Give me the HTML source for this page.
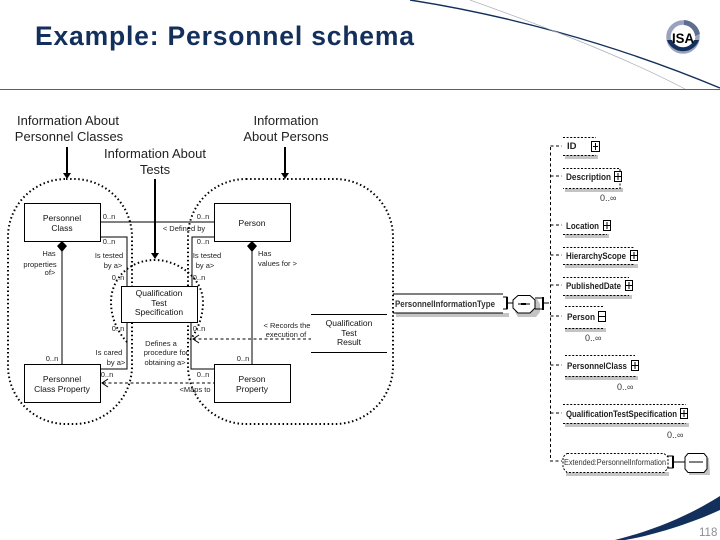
<!DOCTYPE html>
<html><head><meta charset="utf-8"><style>
html,body{margin:0;padding:0;background:#fff}
svg{display:block}
text{font-family:"Liberation Sans",sans-serif;fill:#111}
.h{font-size:13px;text-anchor:middle;fill:#222}
.b{font-size:8.5px;text-anchor:middle}
.s{font-size:7.5px;text-anchor:middle;fill:#222}
.e{font-size:9.5px;font-weight:bold;fill:#222}
.m{font-size:9px;fill:#333}
.dot{fill:none;stroke:#000;stroke-width:2;stroke-dasharray:1.5 2.6}
.dash{fill:none;stroke:#000;stroke-width:1;stroke-dasharray:3 2.5}
.l{fill:none;stroke:#000;stroke-width:1}
.box{fill:#fff;stroke:#000;stroke-width:1}
.sh{fill:#c4c4c4}
.ed{fill:#fff;stroke:#000;stroke-width:1;stroke-dasharray:2 1.6}
</style></head><body>
<svg width="720" height="540" viewBox="0 0 720 540" xmlns="http://www.w3.org/2000/svg">
<rect width="720" height="540" fill="#fff"/>
<!-- header -->
<text x="35" y="45" textLength="379" lengthAdjust="spacing" style="font-size:26.500px;font-weight:bold;fill:#13305c">Example: Personnel schema</text>
<line x1="0" y1="89.5" x2="720" y2="89.5" stroke="#55626f" stroke-width="1"/>
<path d="M410 0C500 14 610 42 720 88" fill="none" stroke="#13305c" stroke-width="1.4"/>
<path d="M470 0C540 25 620 55 685 89" fill="none" stroke="#a9afba" stroke-width="0.7"/>
<!-- logo -->
<circle cx="683" cy="37" r="14.5" fill="none" stroke="#9aa3bd" stroke-width="4.5"/>
<path d="M667 40A17 17 0 0 0 699 40L694 40A12 12 0 0 1 672 40Z" fill="#13305c"/>
<path d="M684 20A17 17 0 0 1 700 34L695 36A12 12 0 0 0 684 25Z" fill="#5f6d8f"/>
<text x="683" y="43" text-anchor="middle" style="font-size:14px;font-weight:bold;fill:#000" textLength="22" lengthAdjust="spacingAndGlyphs">ISA</text>
<!-- bottom swoosh -->
<path d="M615 540C655 530 690 515 720 496L720 510C690 524 650 536 625 540Z" fill="#13305c"/>
<text x="699" y="536" style="font-size:11.5px;fill:#8a8f96">118</text>

<!-- dotted groups -->
<rect x="8" y="179" width="124" height="245" rx="58" ry="58" class="dot"/>
<rect x="188" y="179" width="205" height="245" rx="58" ry="58" class="dot"/>
<path d="M127 342C116 330 111 316 111 302C111 280 128 260 155 260C178 260 203 278 203 302C203 316 198 330 190 340" class="dot"/>

<!-- heading labels + arrows -->
<text class="h" x="68" y="125">Information About</text>
<text class="h" x="69" y="141">Personnel Classes</text>
<text class="h" x="155" y="158">Information About</text>
<text class="h" x="155" y="174">Tests</text>
<text class="h" x="286" y="125">Information</text>
<text class="h" x="286" y="141">About Persons</text>
<path d="M67 147V173" stroke="#000" stroke-width="2"/><path d="M63 173L71 173L67 179Z"/>
<path d="M155 179V253" stroke="#000" stroke-width="2"/><path d="M151 253L159 253L155 259Z"/>
<path d="M285 147V173" stroke="#000" stroke-width="2"/><path d="M281 173L289 173L285 179Z"/>

<!-- connectors -->
<path class="l" d="M100 222H214M100 237H127V286M214 237H192V286M62 241V364M252 241V364M127 322V369H100M191 322V369H214"/>
<path class="dash" d="M103 383H214M193 339H311"/>
<path class="l" d="M108 379L102 383L108 387M199 335L193 339L199 343"/>
<path d="M62 241L67 246L62 252L57 246Z M252 241L257 246L252 252L247 246Z"/>

<!-- boxes -->
<rect class="box" x="24.5" y="203.5" width="76" height="38"/>
<rect class="box" x="214.5" y="203.5" width="76" height="38"/>
<rect class="box" x="24.5" y="364.5" width="76" height="38"/>
<rect class="box" x="214.5" y="364.5" width="76" height="38"/>
<rect class="box" x="121.5" y="286.5" width="76" height="36"/>
<path class="l" d="M311 314.5H387M311 352.5H387"/>
<text class="b" x="62" y="221">Personnel</text><text class="b" x="62" y="231">Class</text>
<text class="b" x="252" y="226">Person</text>
<text class="b" x="62" y="382">Personnel</text><text class="b" x="62" y="392">Class Property</text>
<text class="b" x="252" y="382">Person</text><text class="b" x="252" y="392">Property</text>
<text class="b" x="159" y="296">Qualification</text><text class="b" x="159" y="306">Test</text><text class="b" x="159" y="315">Specification</text>
<text class="b" x="349" y="326">Qualification</text><text class="b" x="349" y="336">Test</text><text class="b" x="349" y="345">Result</text>

<!-- small labels -->
<text class="s" x="109" y="219">0..n</text><text class="s" x="203" y="219">0..n</text>
<text class="s" x="184" y="231">&lt; Defined by</text>
<text class="s" x="109" y="244">0..n</text><text class="s" x="203" y="244">0..n</text>
<text class="s" x="109" y="258">Is tested</text><text class="s" x="113" y="268">by a&gt;</text>
<text class="s" x="207" y="258">Is tested</text><text class="s" x="205" y="268">by a&gt;</text>
<text class="s" x="49" y="256">Has</text><text class="s" x="40" y="267">properties</text><text class="s" x="50" y="275">of&gt;</text>
<text class="s" x="258" y="256" style="text-anchor:start">Has</text><text class="s" x="258" y="266" style="text-anchor:start">values for &gt;</text>
<text class="s" x="118" y="280">0..n</text><text class="s" x="199" y="280">0..n</text>
<text class="s" x="118" y="331">0..n</text><text class="s" x="199" y="331">0..n</text>
<text class="s" x="109" y="355">Is cared</text><text class="s" x="116" y="365">by a&gt;</text>
<text class="s" x="107" y="377">0..n</text><text class="s" x="203" y="377">0..n</text>
<text class="s" x="161" y="346">Defines a</text><text class="s" x="166" y="355">procedure for</text><text class="s" x="165" y="365">obtaining a&gt;</text>
<text class="s" x="195" y="392">&lt;Maps to</text>
<text class="s" x="52" y="361">0..n</text><text class="s" x="243" y="361">0..n</text>
<text class="s" x="287" y="328">&lt; Records the</text><text class="s" x="286" y="337">execution of</text>

<!-- tree: root -->
<rect class="sh" x="396" y="313" width="113" height="4"/>
<path class="l" d="M393 294H503M393 313H503"/>
<text class="m" x="395" y="307" textLength="100" lengthAdjust="spacingAndGlyphs" style="font-weight:bold;font-size:9.5px">PersonnelInformationType</text>
<path class="l" d="M503 297H507V309H503M507 303H513"/>
<path d="M506 297H508V309H506Z"/>
<path class="sh" d="M517 299H537L540 304V312L536 317H518L515 312Z"/>
<path d="M518 295.500H530L535 300V308L530 313H518L513 308V300Z" fill="#fff" stroke="#000"/>
<path class="l" d="M518 304H530"/><path d="M521 303h5v2h-5z"/>
<path class="l" d="M535 298H543M535 309H543M543 297V310M543 303H549"/>
<path d="M542 297H544V310H542Z"/>
<!-- tree vertical -->
<path class="dash" d="M550.500 147V461H562M550.500 146H562M550.500 176H562M550.500 225H562M550.500 255H562M550.500 285H562M550.500 316H562M550.500 365H562M550.500 413H562"/>

<!-- elements -->
<rect class="sh" x="565" y="155" width="33" height="4"/>
<path class="ed" d="M563 137.500H596M563 155.500H596"/>
<text class="e" x="567" y="149">ID</text>
<rect class="box" x="591.500" y="141.500" width="8" height="10" stroke-width="1.500"/><path class="l" d="M593 146.500H598M595.500 143V150"/>

<rect class="sh" x="565" y="188" width="58" height="4"/>
<path class="ed" d="M563 168.500H620V188.500H563M563 177"/>
<text class="e" x="566" y="180" textLength="45" lengthAdjust="spacingAndGlyphs">Description</text>
<rect class="box" x="614.500" y="171.500" width="7" height="10"/><path class="l" d="M615 176.500H621M618 173V180"/>
<text class="m" x="600" y="201">0..∞</text>

<rect class="sh" x="565" y="234" width="44" height="4"/>
<path class="ed" d="M563 234.500H607"/>
<text class="e" x="566" y="229" textLength="33" lengthAdjust="spacingAndGlyphs">Location</text>
<rect class="box" x="603.500" y="220.500" width="7" height="10"/><path class="l" d="M604 225.500H610M607 222V229"/>

<rect class="sh" x="565" y="264" width="73" height="4"/>
<path class="ed" d="M563 247.500H634M563 264.500H634"/>
<text class="e" x="566" y="259" textLength="60" lengthAdjust="spacingAndGlyphs">HierarchyScope</text>
<rect class="box" x="630.500" y="250.500" width="7" height="10"/><path class="l" d="M631 255.500H637M634 252V259"/>

<rect class="sh" x="565" y="295" width="67" height="4"/>
<path class="ed" d="M563 277.500H629M563 295.500H629"/>
<text class="e" x="566" y="289" textLength="55" lengthAdjust="spacingAndGlyphs">PublishedDate</text>
<rect class="box" x="625.500" y="280.500" width="7" height="10"/><path class="l" d="M626 285.500H632M629 282V289"/>

<rect class="sh" x="565" y="328" width="41" height="4"/>
<path class="ed" d="M565 306.500H603M565 328.500H603"/>
<text class="e" x="567" y="320" textLength="28" lengthAdjust="spacingAndGlyphs">Person</text>
<rect class="box" x="598.500" y="311.500" width="7" height="10"/><path class="l" d="M599 316.500H605"/>
<text class="m" x="585" y="341">0..∞</text>

<rect class="sh" x="565" y="376" width="73" height="4"/>
<path class="ed" d="M565 355.500H635M565 376.500H637"/>
<text class="e" x="567" y="369" textLength="60" lengthAdjust="spacingAndGlyphs">PersonnelClass</text>
<rect class="box" x="631.500" y="360.500" width="7" height="10"/><path class="l" d="M632 365.500H638M635 362V369"/>
<text class="m" x="617" y="390">0..∞</text>

<rect class="sh" x="565" y="423" width="124" height="4"/>
<path class="ed" d="M563 404.500H686M563 423.500H686"/>
<text class="e" x="566" y="417" textLength="111" lengthAdjust="spacingAndGlyphs">QualificationTestSpecification</text>
<rect class="box" x="680.500" y="408.500" width="7" height="10"/><path class="l" d="M681 413.500H687M684 410V417"/>
<text class="m" x="667" y="438">0..∞</text>

<path class="sh" d="M566 472H669V476H566Z"/>
<path class="ed" d="M567 453.500H664L668 457V468L664 472.500H567L563 468V457Z"/>
<text class="m" x="564" y="465" textLength="102" lengthAdjust="spacingAndGlyphs" style="font-size:8.500px">Extended:PersonnelInformation</text>
<path class="l" d="M667 456H673V468H667M673 462H685"/>
<path d="M672 456H674V468H672Z"/>
<path class="sh" d="M689 458H709L710 475H689Z"/>
<path d="M688 453.500H704L707 457V469L704 472.500H688L685 469V457Z" fill="#fff" stroke="#000"/>
<path class="l" d="M689 462H703"/>
</svg>
</body></html>
